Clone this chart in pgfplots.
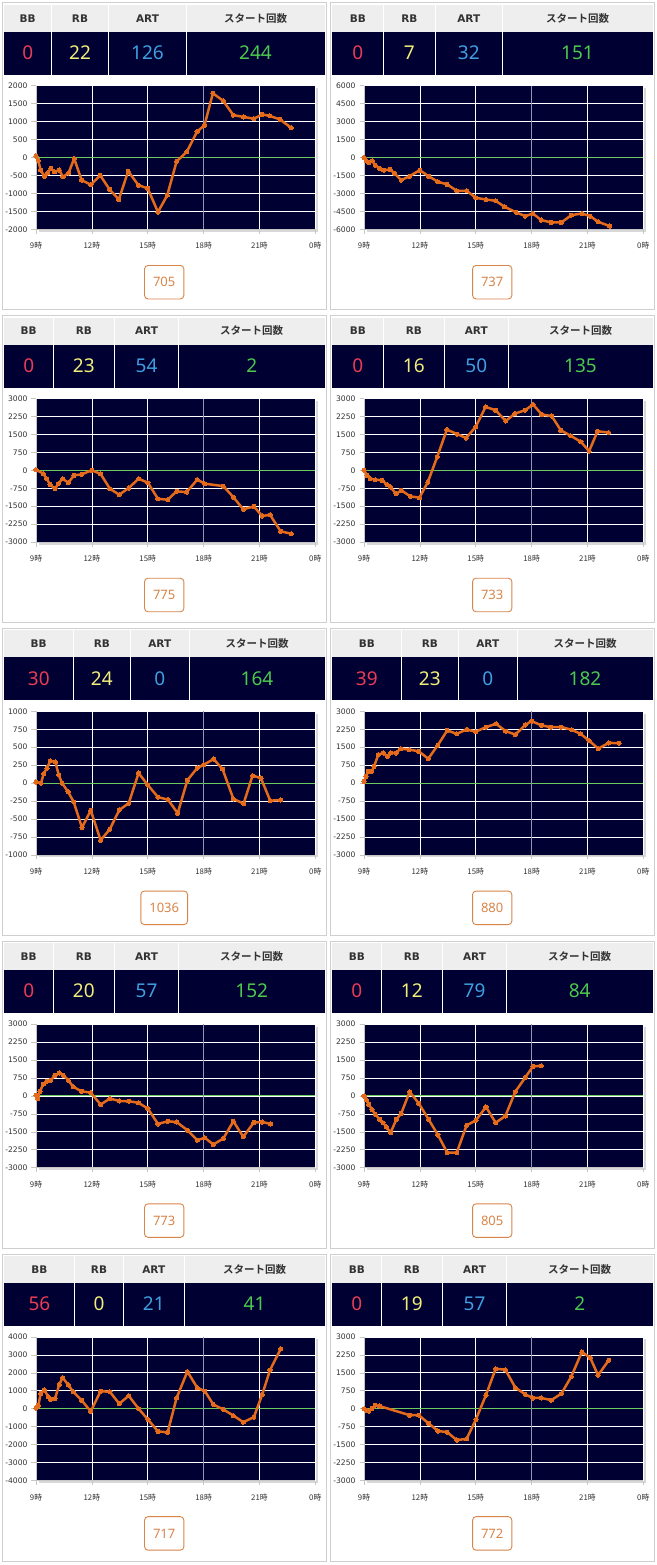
\documentclass[border=0pt]{standalone}
\usepackage{pgfplots}
\usepackage{pgfplotstable}
\pgfplotsset{compat=1.18}
\usepackage{fontspec}
\setmainfont{DejaVu Sans}
\newfontfamily\jp{Noto Sans CJK JP}
\newfontfamily\jpb{Noto Sans CJK JP}[UprightFont=* Bold]
\newfontfamily\num{Noto Sans}
\newfontfamily\tkfont{DejaVu Sans}

\definecolor{navy}{HTML}{000033}
\definecolor{hdrgray}{HTML}{EEEEEE}
\definecolor{bordergray}{HTML}{CFCFCF}
\definecolor{shadowgray}{HTML}{D8D8D8}
\definecolor{bbcol}{HTML}{EA3C55}
\definecolor{rbcol}{HTML}{F2EE7A}
\definecolor{artcol}{HTML}{3FA0E0}
\definecolor{stcol}{HTML}{4CC94C}
\definecolor{lineorange}{HTML}{E46A1C}
\definecolor{boxorange}{HTML}{D8854A}
\definecolor{zerogreen}{HTML}{6CCB5F}
\definecolor{grid18}{HTML}{9494B0}
\definecolor{txt}{HTML}{333333}

\pgfplotsset{
  panelaxis/.style={
    scale only axis, width=279.3pt, height=143.6pt, anchor=south west,
    xmin=9, xmax=24, xtick={9,12,15,18,21,24},
    xticklabels={9時,12時,15時,18時,21時,0時},
    axis background/.style={fill=navy},
    axis x line*=bottom, axis y line*=left,
    axis line style={-, draw=gray!45, line width=0.6pt},
    tick align=outside, major tick length=4.5pt,
    tick style={draw=gray!45, line width=0.6pt},
    grid=major, major grid style={white, line width=0.7pt},
    scaled y ticks=false,
    /pgf/number format/assume math mode=true,
    /pgf/number format/1000 sep={},
    /pgf/number format/fixed,
    /pgf/number format/precision=0,
    yticklabel style={font=\tkfont\fontsize{7.6}{8}\selectfont, text=txt, xshift=-0.5pt},
    xticklabel style={font=\jp\fontsize{7.8}{8}\selectfont, text=txt, yshift=-5pt},
    clip=false,
  },
  series/.style={lineorange, line width=2.5pt, mark=*, mark size=2.1pt, mark options={fill=lineorange, draw=lineorange, line width=0pt}, line join=round},
}

\newcommand\panel[9]{%
  \begin{scope}[shift={(#1pt,-#2pt)}]
    \draw[bordergray, line width=0.8pt] (0,0) rectangle (323.5pt,-307pt);
    \fill[hdrgray] (1.5pt,-2pt) rectangle (322pt,-29pt);
    \fill[navy] (1.5pt,-29pt) rectangle (322pt,-72pt);
    \foreach \d in {#3,#4,#5} \draw[white, line width=1pt] (\d pt,-2pt) -- (\d pt,-72pt);
    \pgfmathsetmacro\cA{(1.5+#3)/2}
    \pgfmathsetmacro\cB{(#3+#4)/2}
    \pgfmathsetmacro\cC{(#4+#5)/2}
    \pgfmathsetmacro\cD{(#5+322)/2}
    \node[text=txt, font=\bfseries\fontsize{10.5}{12}\selectfont] at (\cA pt,-15.5pt) {BB};
    \node[text=txt, font=\bfseries\fontsize{10.5}{12}\selectfont] at (\cB pt,-15.5pt) {RB};
    \node[text=txt, font=\bfseries\fontsize{10.5}{12}\selectfont] at (\cC pt,-15.5pt) {ART};
    \node[text=txt, font=\jpb\fontsize{10.5}{12}\selectfont] at (\cD pt,-15.5pt) {スタート回数};
    \node[text=bbcol, font=\num\fontsize{19}{20}\selectfont] at (\cA pt,-50pt) {#6};
    \node[text=rbcol, font=\num\fontsize{19}{20}\selectfont] at (\cB pt,-50pt) {#7};
    \node[text=artcol, font=\num\fontsize{19}{20}\selectfont] at (\cC pt,-50pt) {#8};
    \node[text=stcol, font=\num\fontsize{19}{20}\selectfont] at (\cD pt,-50pt) {#9};
  \end{scope}
}
\newcommand\numbox[3]{%
  \node[draw=boxorange, line width=0.9pt, rounded corners=3.5pt, text=boxorange,
        font=\num\fontsize{13}{15}\selectfont, inner xsep=8.5pt, minimum height=33.5pt,
        minimum width=39pt] at (#1pt+161.5pt,-#2pt-279.5pt) {#3};
}
\newcommand\chart[5]{%
  \pgfmathsetmacro\pAX{#1+33.3}
  \pgfmathsetmacro\pAY{-(#2+226.6)}
  \fill[shadowgray] (\pAX pt+2.5pt,\pAY pt-2.5pt) rectangle +(279.3pt,143.6pt);
  \begin{axis}[panelaxis, at={(\pAX pt,\pAY pt)}, ymin=-#3, ymax=#3, ytick distance=#4]
    \addplot[zerogreen, line width=0.9pt] coordinates {(9,0) (24,0)};
    \addplot[grid18, line width=1pt] coordinates {(18,-#3) (18,#3)};
    \addplot[series] table {#5};
  \end{axis}
}

\pgfplotstableread{
x y
9.0 40
9.12 -80
9.25 -350
9.45 -520
9.62 -430
9.8 -300
10.0 -400
10.25 -350
10.45 -540
10.75 -430
11.05 -30
11.45 -630
11.95 -760
12.45 -500
12.95 -890
13.45 -1170
13.95 -380
14.5 -770
15.0 -860
15.55 -1520
16.05 -1050
16.55 -110
17.1 160
17.65 720
18.05 900
18.5 1790
19.05 1580
19.6 1180
20.15 1130
20.7 1080
21.15 1200
21.55 1160
22.1 1060
22.7 830
}\dA
\pgfplotstableread{
x y
9.0 0
9.12 -280
9.25 -450
9.43 -280
9.61 -640
9.84 -920
10.06 -1060
10.41 -1000
10.65 -1340
11.0 -1890
11.45 -1560
11.99 -1060
12.47 -1560
12.97 -2030
13.47 -2250
13.98 -2780
14.51 -2780
15.01 -3370
15.55 -3510
16.07 -3620
16.55 -4120
17.18 -4590
17.66 -4900
18.07 -4680
18.52 -5230
19.06 -5430
19.6 -5430
20.13 -4820
20.7 -4680
21.15 -4900
21.57 -5370
22.19 -5730
}\dB
\pgfplotstableread{
x y
9.0 20
9.39 -140
9.57 -350
9.75 -590
10.02 -770
10.2 -560
10.43 -350
10.74 -520
11.04 -210
11.45 -170
11.99 0
12.47 -150
12.97 -770
13.47 -1020
13.98 -740
14.51 -350
15.01 -520
15.55 -1190
16.07 -1230
16.55 -880
17.09 -910
17.66 -390
18.07 -560
19.06 -660
19.6 -1120
20.13 -1630
20.7 -1510
21.15 -1910
21.57 -1860
22.14 -2550
22.71 -2650
}\dC
\pgfplotstableread{
x y
9.0 0
9.16 -210
9.34 -350
9.61 -390
9.97 -420
10.24 -600
10.42 -700
10.72 -980
11.01 -840
11.49 -1090
11.98 -1140
12.43 -490
12.93 560
13.45 1700
14.01 1510
14.49 1350
14.99 1810
15.53 2650
16.07 2510
16.61 2060
17.11 2370
17.65 2510
18.08 2750
18.55 2330
19.08 2270
19.57 1670
20.11 1440
20.65 1190
21.09 800
21.54 1630
22.13 1580
}\dD
\pgfplotstableread{
x y
9.0 15
9.27 0
9.41 130
9.59 210
9.77 310
10.04 295
10.22 115
10.4 0
10.72 -120
11.02 -260
11.47 -620
11.94 -380
12.47 -795
12.96 -645
13.47 -375
13.98 -280
14.51 140
15.0 -25
15.55 -195
16.09 -230
16.61 -420
17.13 40
17.66 210
18.0 255
18.54 335
19.02 195
19.6 -220
20.15 -285
20.63 105
21.08 70
21.58 -245
22.14 -235
}\dE
\pgfplotstableread{
x y
9.0 70
9.11 280
9.23 490
9.41 490
9.54 700
9.77 1190
10.04 1260
10.25 1120
10.43 1260
10.72 1260
10.97 1440
11.43 1400
11.94 1330
12.45 1020
12.96 1580
13.47 2200
13.98 2060
14.51 2240
15.0 2150
15.55 2340
16.09 2480
16.61 2170
17.13 2030
17.66 2430
18.0 2590
18.54 2410
19.02 2340
19.6 2340
20.15 2230
20.63 2060
21.08 1780
21.58 1440
22.14 1680
22.69 1670
}\dF
\pgfplotstableread{
x y
9.0 30
9.09 -110
9.21 190
9.39 490
9.57 610
9.79 650
10.02 860
10.25 960
10.47 860
10.74 650
11.0 380
11.45 190
11.94 140
12.47 -360
12.97 -110
13.47 -210
13.98 -220
14.51 -290
15.01 -530
15.55 -1170
16.07 -1060
16.55 -1090
17.13 -1430
17.66 -1850
18.07 -1750
18.52 -2030
19.06 -1780
19.6 -1060
20.13 -1710
20.7 -1110
21.15 -1090
21.6 -1170
}\dG
\pgfplotstableread{
x y
9.0 0
9.13 -170
9.25 -350
9.43 -570
9.61 -770
9.84 -980
10.02 -1120
10.2 -1300
10.43 -1530
10.74 -980
11.0 -730
11.45 170
11.94 -310
12.47 -980
12.97 -1630
13.47 -2370
13.98 -2370
14.51 -1230
15.01 -1020
15.55 -460
16.07 -1120
16.59 -840
17.13 180
17.66 770
18.07 1230
18.52 1260
}\dH
\pgfplotstableread{
x y
9.0 40
9.13 190
9.25 850
9.45 1040
9.66 660
9.79 530
10.02 560
10.25 1350
10.43 1730
10.74 1320
11.0 940
11.45 470
11.94 -150
12.47 980
12.97 940
13.47 280
13.98 720
14.51 0
15.01 -600
15.55 -1260
16.07 -1320
16.55 600
17.13 2070
17.66 1170
18.07 980
18.52 240
19.06 -40
19.6 -380
20.13 -750
20.7 -470
21.15 790
21.57 2160
22.14 3330
}\dI
\pgfplotstableread{
x y
9.0 0
9.13 -60
9.25 -100
9.43 10
9.61 150
9.84 110
11.45 -270
11.94 -270
12.47 -610
12.97 -930
13.47 -980
13.98 -1310
14.51 -1260
15.01 -450
15.55 570
16.07 1670
16.59 1630
17.13 880
17.66 600
18.07 450
18.52 450
19.06 360
19.6 630
20.13 1340
20.7 2370
21.15 2130
21.57 1400
22.14 2020
}\dJ

\begin{document}
\begin{tikzpicture}
\path[use as bounding box, fill=white] (0,0) rectangle (656pt,-1565pt);
% row 1
\panel{2.7}{2.7}{48.6}{106}{183.6}{0}{22}{126}{244}
\chart{2.7}{2.7}{2000}{500}{\dA}
\numbox{2.7}{2.7}{705}
\panel{330.7}{2.7}{52.6}{104.6}{171.6}{0}{7}{32}{151}
\chart{330.7}{2.7}{6000}{1500}{\dB}
\numbox{330.7}{2.7}{737}
% row 2
\panel{2.7}{315.5}{50.6}{111.6}{176}{0}{23}{54}{2}
\chart{2.7}{315.5}{3000}{750}{\dC}
\numbox{2.7}{315.5}{775}
\panel{330.7}{315.5}{52.6}{113.6}{177.6}{0}{16}{50}{135}
\chart{330.7}{315.5}{3000}{750}{\dD}
\numbox{330.7}{315.5}{733}
% row 3
\panel{2.7}{628.3}{70.6}{127.6}{186.6}{30}{24}{0}{164}
\chart{2.7}{628.3}{1000}{250}{\dE}
\numbox{2.7}{628.3}{1036}
\panel{330.7}{628.3}{70.6}{127.6}{186.6}{39}{23}{0}{182}
\chart{330.7}{628.3}{3000}{750}{\dF}
\numbox{330.7}{628.3}{880}
% row 4
\panel{2.7}{941.1}{50.6}{111.6}{176}{0}{20}{57}{152}
\chart{2.7}{941.1}{3000}{750}{\dG}
\numbox{2.7}{941.1}{773}
\panel{330.7}{941.1}{50.6}{111.6}{176}{0}{12}{79}{84}
\chart{330.7}{941.1}{3000}{750}{\dH}
\numbox{330.7}{941.1}{805}
% row 5
\panel{2.7}{1253.9}{72}{120.6}{181.6}{56}{0}{21}{41}
\chart{2.7}{1253.9}{4000}{1000}{\dI}
\numbox{2.7}{1253.9}{717}
\panel{330.7}{1253.9}{50.6}{111.6}{176}{0}{19}{57}{2}
\chart{330.7}{1253.9}{3000}{750}{\dJ}
\numbox{330.7}{1253.9}{772}
\end{tikzpicture}
\end{document}
